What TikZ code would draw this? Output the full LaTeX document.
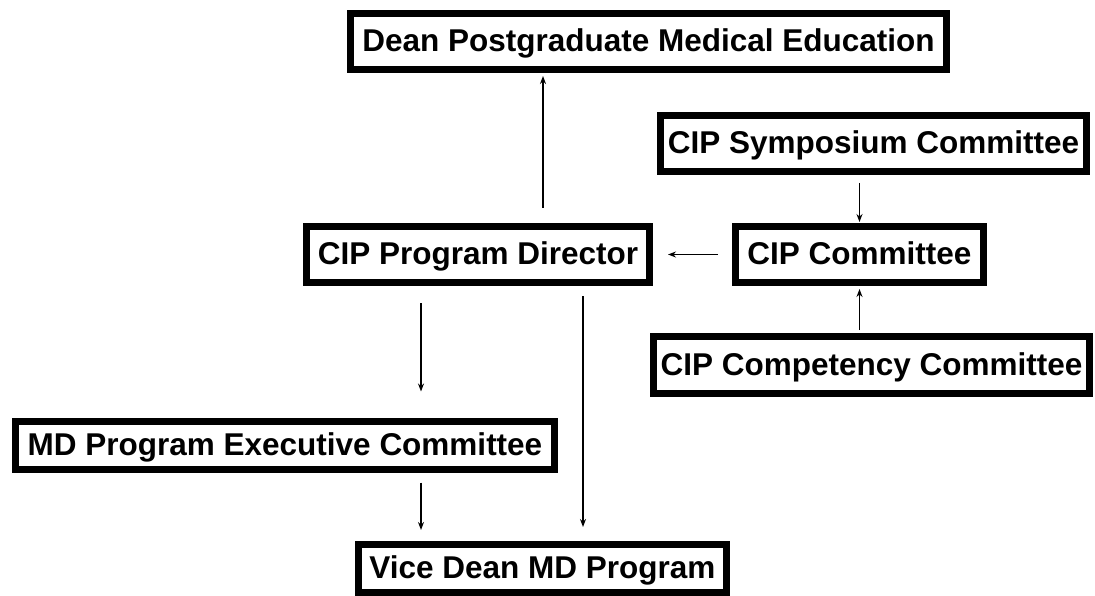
\documentclass[tikz,border=0pt]{standalone}
\usepackage{fontspec}
\setmainfont{Liberation Sans}
\usetikzlibrary{arrows.meta}
\begin{document}
\begin{tikzpicture}[x=1pt,y=-1pt,
  box/.style={draw=black,line width=7pt,fill=white,inner sep=0pt,
    minimum height=56pt,text height=20pt,text depth=0pt,
    font=\fontsize{31.5}{36}\selectfont\bfseries},
  conn/.style={line width=1.4pt,-{Stealth[length=8pt,width=6pt]}}]
\useasboundingbox (0,0) rectangle (1095,596);
\node[box,minimum width=596pt] (dean) at (648.5,41.5) {Dean Postgraduate Medical Education};
\node[box,minimum width=426pt] (symp) at (873.5,143.5) {CIP Symposium Committee};
\node[box,minimum width=248pt] (comm) at (859.5,254.5) {CIP Committee};
\node[box,minimum width=343pt] (dir) at (478,254.5) {CIP Program Director};
\node[box,minimum width=436pt,minimum height=57pt] (comp) at (871.5,365) {CIP Competency Committee};
\node[box,minimum width=539pt,minimum height=48pt] (md) at (285,445) {MD Program Executive Committee};
\node[box,minimum width=368pt,minimum height=48pt] (vd) at (542.5,568.5) {Vice Dean MD Program};
\draw[conn,shorten <=15pt,shorten >=3pt] (dir.north -| 543,0) -- (dean.south -| 543,0);
\draw[conn,shorten <=8pt,shorten >=1pt] (symp.south -| comm.north) -- (comm.north);
\draw[conn,shorten <=3pt,shorten >=3pt] (comp.north -| comm.south) -- (comm.south);
\draw[conn,shorten <=14pt,shorten >=15pt] (comm.west) -- (dir.east);
\draw[conn,shorten <=17pt,shorten >=26pt] (dir.south -| 421,0) -- (md.north -| 421,0);
\draw[conn,shorten <=10pt,shorten >=14pt] (dir.south -| 583,0) -- (vd.north -| 583,0);
\draw[conn,shorten <=10pt,shorten >=11pt] (md.south -| 421,0) -- (vd.north -| 421,0);
\end{tikzpicture}
\end{document}
